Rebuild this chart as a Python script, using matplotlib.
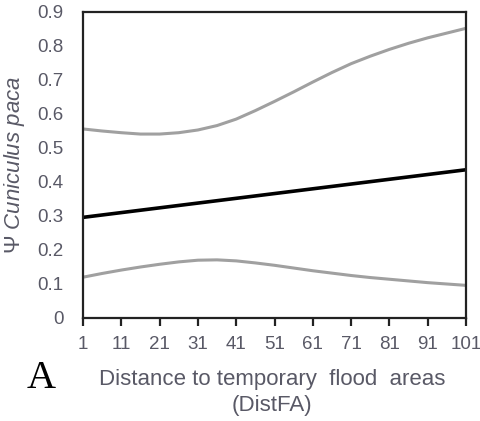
import matplotlib
matplotlib.use("Agg")
import matplotlib.pyplot as plt

plt.rcParams['font.family'] = ['Liberation Sans', 'DejaVu Sans']
plt.rcParams['mathtext.fontset'] = 'custom'
plt.rcParams['mathtext.it'] = 'Liberation Sans:italic'
plt.rcParams['mathtext.rm'] = 'Liberation Sans'

distance = [1, 6, 11, 16, 21, 26, 31, 36, 41, 46, 51, 56, 61, 66, 71, 76, 81, 86, 91, 96, 101]
psi_mean = [0.296, 0.303, 0.310, 0.317, 0.324, 0.331, 0.338, 0.345, 0.352, 0.359, 0.366,
            0.373, 0.380, 0.387, 0.394, 0.401, 0.408, 0.415, 0.422, 0.429, 0.436]
psi_upper = [0.556, 0.550, 0.545, 0.541, 0.541, 0.545, 0.553, 0.566, 0.585, 0.610, 0.637,
             0.665, 0.694, 0.722, 0.748, 0.770, 0.790, 0.808, 0.824, 0.838, 0.852]
psi_lower = [0.120, 0.131, 0.141, 0.150, 0.158, 0.165, 0.170, 0.171, 0.168, 0.162, 0.155,
             0.147, 0.139, 0.132, 0.125, 0.119, 0.114, 0.109, 0.104, 0.100, 0.096]
xticks = [1, 11, 21, 31, 41, 51, 61, 71, 81, 91, 101]
yticks = [0, 0.1, 0.2, 0.3, 0.4, 0.5, 0.6, 0.7, 0.8, 0.9]
ytick_labels = ['0', '0.1', '0.2', '0.3', '0.4', '0.5', '0.6', '0.7', '0.8', '0.9']

txt = '#595966'

fig = plt.figure(figsize=(4.81, 4.21), dpi=100)
ax = fig.add_axes([83 / 481, 1 - 318 / 421, (466 - 83) / 481, (318 - 12) / 421])

ax.plot(distance, psi_upper, color='#a0a0a0', lw=2.2, solid_capstyle='butt')
ax.plot(distance, psi_lower, color='#a0a0a0', lw=2.2, solid_capstyle='butt')
ax.plot(distance, psi_mean, color='black', lw=2.6, solid_capstyle='butt')

ax.set_xlim(1, 101)
ax.set_ylim(0, 0.9)
ax.set_xticks(xticks)
ax.set_xticklabels([str(t) for t in xticks])
ax.set_yticks(yticks)
ax.set_yticklabels(ytick_labels)

for s in ax.spines.values():
    s.set_color('#222222')
    s.set_linewidth(1.6)

ax.tick_params(axis='y', length=0, pad=14, labelsize=13.5, labelcolor=txt)
ax.tick_params(axis='x', length=6, width=1.6, color='#222222', direction='out',
               pad=7, labelsize=13.5, labelcolor=txt)

ax.set_ylabel('Ψ $\\it{Cuniculus\\ paca}$', fontsize=16, color=txt)
ax.yaxis.set_label_coords((27 - 83) / 383, 0.5)

fig.text(272 / 481, 1 - 380 / 421, 'Distance to temporary  flood  areas',
         ha='center', va='center', fontsize=16, color=txt)
fig.text(272 / 481, 1 - 406 / 421, '(DistFA)',
         ha='center', va='center', fontsize=16, color=txt)
fig.text(41 / 481, 1 - 378 / 421, 'A', ha='center', va='center',
         fontsize=29, family='Liberation Serif', color='black')

fig.savefig('out.png', dpi=100)
